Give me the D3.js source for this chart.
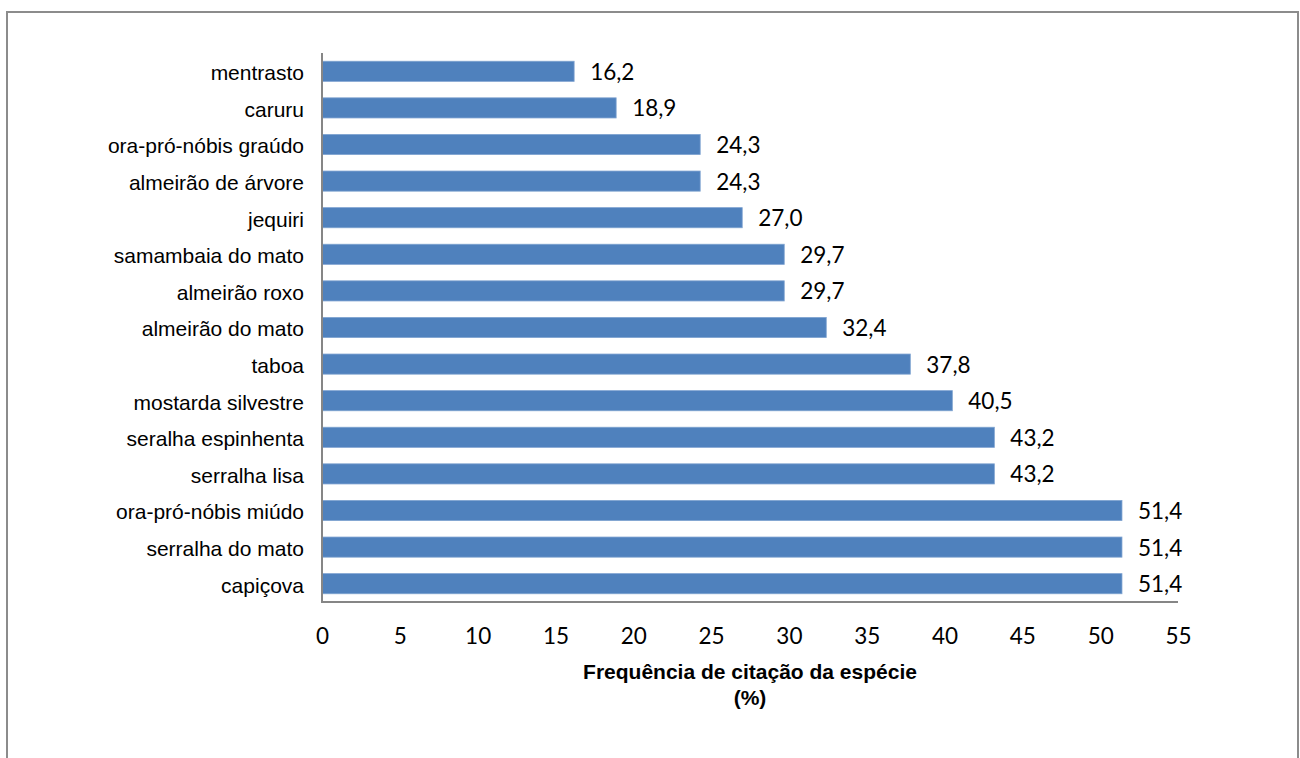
<!DOCTYPE html>
<html><head><meta charset="utf-8">
<script src="https://cdn.jsdelivr.net/npm/d3@7"></script>
<style>body{margin:0;background:#fff}svg{display:block}</style>
</head><body>
<svg id="c" width="1300" height="758"></svg>
<script>
const categories = ["mentrasto","caruru ","ora-pró-nóbis graúdo","almeirão de árvore","jequiri","samambaia do mato","almeirão roxo","almeirão do mato","taboa","mostarda silvestre","seralha espinhenta","serralha lisa","ora-pró-nóbis miúdo","serralha do mato","capiçova"];
const values = [16.2,18.9,24.3,24.3,27.0,29.7,29.7,32.4,37.8,40.5,43.2,43.2,51.4,51.4,51.4];
const xTicks = [0,5,10,15,20,25,30,35,40,45,50,55];
const axisTitle = ["Frequência de citação da espécie","(%)"];

const svg = d3.select("#c");
svg.append("rect").attr("x",7).attr("y",12).attr("width",1291).attr("height",760)
  .attr("fill","#fff").attr("stroke","#8c8c8c").attr("stroke-width",2);

const x = d3.scaleLinear().domain([0,55]).range([322,1178]);
const y = d3.scaleBand().domain(categories).range([53,602]).paddingInner(0.45).paddingOuter(0.225);

svg.selectAll("rect.bar").data(values).enter().append("rect").attr("class","bar")
  .attr("x",x(0)).attr("y",(d,i)=>y(categories[i]))
  .attr("width",d=>x(d)-x(0)).attr("height",y.bandwidth())
  .attr("fill","#4f81bd").attr("stroke","#7fa3d0").attr("stroke-width",0.8);

svg.selectAll("text.val").data(values).enter().append("text").attr("class","val")
  .attr("x",d=>x(d)+16).attr("y",(d,i)=>y(categories[i])+y.bandwidth()/2)
  .attr("dy","0.38em").attr("font-family","Lato, 'Open Sans', sans-serif").attr("font-size",22.5)
  .attr("fill","#000").text(d=>d.toFixed(1).replace(".",","));

svg.selectAll("text.cat").data(categories).enter().append("text").attr("class","cat")
  .attr("x",304).attr("y",d=>y(d)+y.bandwidth()/2).attr("dy","0.42em")
  .attr("text-anchor","end").attr("font-family","'Liberation Sans', Arial, sans-serif")
  .attr("font-size",21).attr("fill","#000").text(d=>d);

// axes lines
svg.append("line").attr("x1",322).attr("x2",322).attr("y1",53).attr("y2",602).attr("stroke","#868686").attr("stroke-width",2);
svg.append("line").attr("x1",321).attr("x2",x(55)).attr("y1",602).attr("y2",602).attr("stroke","#868686").attr("stroke-width",2);

const ax = svg.append("g").attr("transform","translate(0,602)")
  .call(d3.axisBottom(x).tickValues(xTicks).tickSize(0).tickPadding(26));
ax.select(".domain").remove();
ax.selectAll("text").attr("font-family","Lato, 'Open Sans', sans-serif").attr("font-size",22.5).attr("fill","#000");

svg.append("text").attr("x",750).attr("y",679).attr("text-anchor","middle")
  .attr("font-family","'Liberation Sans', Arial, sans-serif").attr("font-weight","bold").attr("font-size",21)
  .text(axisTitle[0]);
svg.append("text").attr("x",750).attr("y",705).attr("text-anchor","middle")
  .attr("font-family","'Liberation Sans', Arial, sans-serif").attr("font-weight","bold").attr("font-size",21)
  .text(axisTitle[1]);
</script>
</body></html>
